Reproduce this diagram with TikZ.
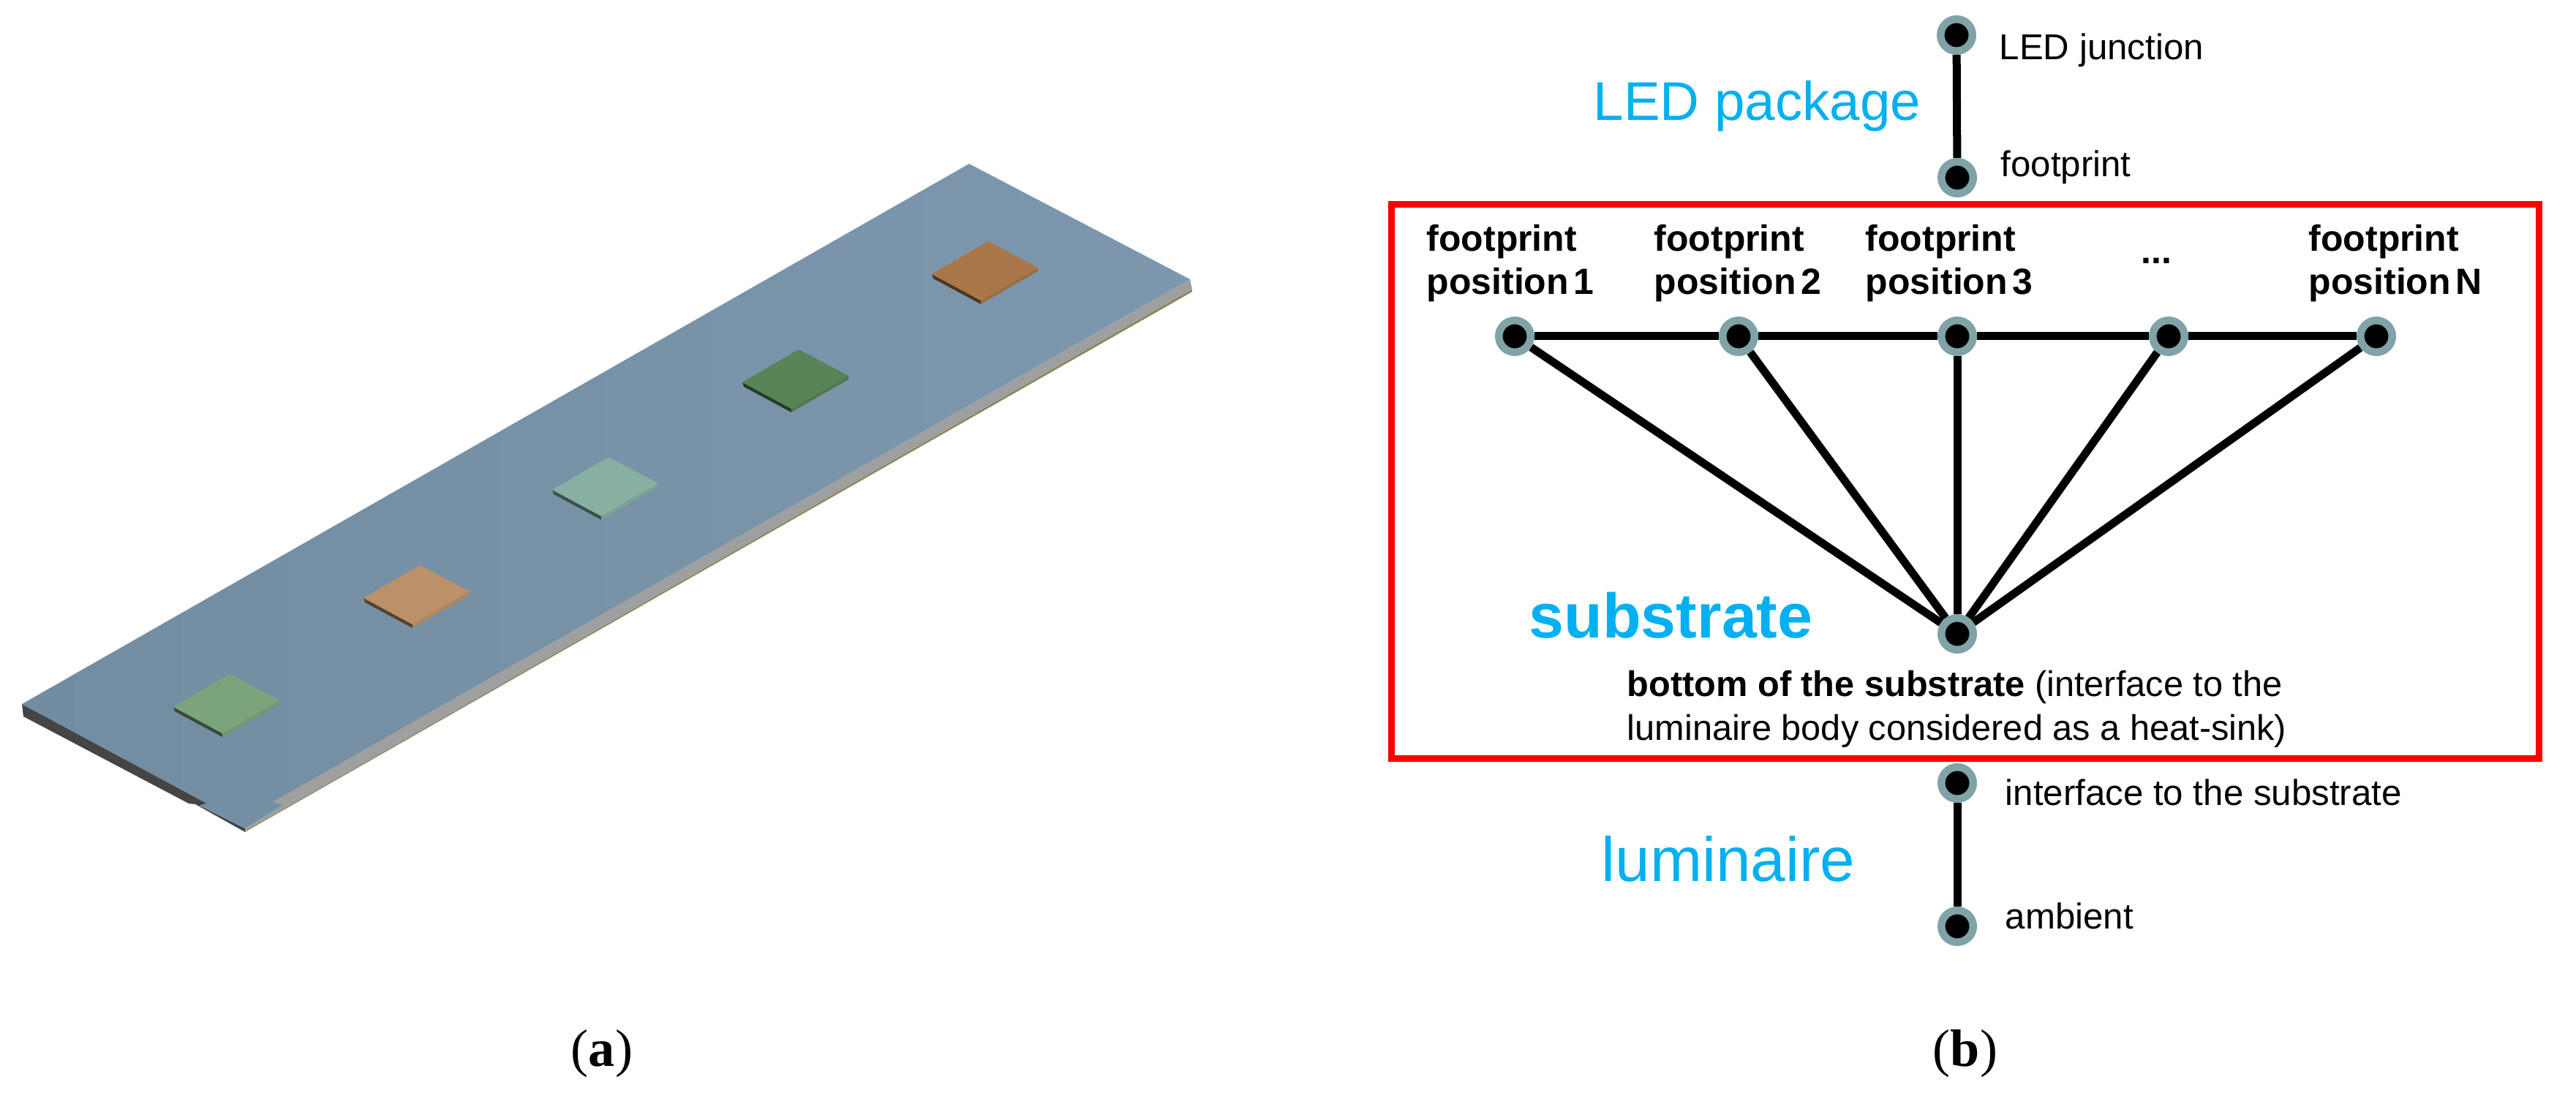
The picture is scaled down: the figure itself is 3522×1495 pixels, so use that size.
\documentclass[tikz,border=0pt]{standalone}
\usepackage{fontspec}
\setmainfont{Liberation Sans}
\newfontfamily\capfont{Liberation Serif}
\usepackage{xcolor}
\definecolor{ledBlue}{HTML}{00B0F0}
\definecolor{ringGray}{HTML}{7FA3A7}
\definecolor{boxRed}{HTML}{FF0000}
\definecolor{plateLow}{HTML}{728CA1}
\definecolor{plateHigh}{HTML}{7D98AE}
\definecolor{sideDark}{HTML}{454545}
\definecolor{sideLight}{HTML}{9F9F9F}
\definecolor{sideOlive}{HTML}{7E8A55}
\definecolor{chipGreenA}{HTML}{7CA47B}
\definecolor{chipOrangeA}{HTML}{BC9069}
\definecolor{chipTeal}{HTML}{87AFA2}
\definecolor{chipGreenB}{HTML}{588457}
\definecolor{chipOrangeB}{HTML}{A97748}
\begin{document}
\begin{tikzpicture}[
  x=0.01cm, y=-0.01cm,
  junction/.style={circle, fill=black, draw=ringGray, line width=10.5*0.2845pt, minimum size=43.5*0.2845pt, inner sep=0pt},
  wire/.style={line width=11*0.2845pt, color=black},
  lab/.style={font=\fontsize{14}{17}\selectfont, inner sep=0pt, anchor=base west},
  head/.style={font=\fontsize{14.2}{16.8}\selectfont\bfseries, execute at begin node={\spaceskip=0.13em\relax}, inner sep=0pt, align=left, anchor=north west},
  part/.style={inner sep=0pt, anchor=base west, color=ledBlue},
  sublabel/.style={font=\capfont\fontsize{20.5}{24}\selectfont, inner sep=0pt, anchor=base}
]
\useasboundingbox (0,0) rectangle (3522,1495);
% plate
\fill[sideDark] (30,963) -- (32,980) -- (258,1099) -- (267,1100) -- (335,1138) -- (335,1133) -- (273,1102) -- (283,1099) -- cycle;
\fill[sideOlive] (335,1138) -- (1630,399) -- (1629,394) -- (335,1134) -- cycle;
\fill[sideLight] (335,1137) -- (1630,396) -- (1627,382) -- (373,1097) -- (387,1101) -- (335,1133) -- cycle;
\shade[left color=plateLow, right color=plateHigh] (30,963) -- (283,1099) -- (273,1102) -- (335,1133) -- (387,1101) -- (373,1097) -- (1627,382) -- (1325,224) -- cycle;
% chips
\foreach \x/\y/\c in {314/922/chipGreenA, 574/773/chipOrangeA, 832/625/chipTeal, 1092/478/chipGreenB, 1351/330/chipOrangeB}{
  \fill[\c!45!black] (\x-77,\y+45) -- (\x-10,\y+81) -- (\x-10,\y+86) -- (\x-75,\y+51) -- cycle;
  \fill[\c!92!black] (\x-10,\y+81) -- (\x+68,\y+36) -- (\x+68,\y+41) -- (\x-10,\y+86) -- cycle;
  \fill[\c] (\x,\y) -- (\x-77,\y+45) -- (\x-10,\y+81) -- (\x+68,\y+36) -- cycle;
}
% thermal network
\node[junction] (junc) at (2675,48) {};
\node[junction] (foot) at (2676,243) {};
\node[junction] (pos1) at (2071,460) {};
\node[junction] (pos2) at (2377,460) {};
\node[junction] (pos3) at (2676,460) {};
\node[junction] (pos4) at (2965,460) {};
\node[junction] (pos5) at (3249,460) {};
\node[junction] (base) at (2676,867) {};
\node[junction] (intf) at (2676,1071) {};
\node[junction] (amb) at (2676,1267) {};
\draw[wire] (junc) -- (foot);
\draw[wire] (intf) -- (amb);
\draw[wire] (pos1) -- (pos2);
\draw[wire] (pos2) -- (pos3);
\draw[wire] (pos3) -- (pos4);
\draw[wire] (pos4) -- (pos5);
\foreach \n in {pos1,pos2,pos3,pos4,pos5}{
  \draw[wire] (\n) -- (base);
}
% substrate frame
\node[draw=boxRed, line width=9.5*0.2845pt, minimum width=1568.5*0.2845pt, minimum height=758*0.2845pt, inner sep=0pt] (frame) at (2687,658.5) {};
% labels
\node[lab] (tjunc) at (2733,82) {LED junction};
\node[lab] (tfoot) at (2735,242) {footprint};
\node[lab] (tintf) at (2741,1101) {interface to the substrate};
\node[lab] (tamb) at (2741,1270) {ambient};
\node[part, font=\fontsize{21.2}{25}\selectfont] (tled) at (2178,165) {LED package};
\node[part, font=\fontsize{24.5}{29}\selectfont\bfseries] (tsub) at (2090,872) {substrate};
\node[part, font=\fontsize{24.3}{29}\selectfont] (tlum) at (2189,1205) {luminaire};
\node[head] (t1) at (1950,307) {footprint\\position 1};
\node[head] (t2) at (2261,307) {footprint\\position 2};
\node[head] (t3) at (2550,307) {footprint\\position 3};
\node[head, anchor=base] (t4) at (2948,361) {...};
\node[head] (t5) at (3156,307) {footprint\\position N};
\node[font=\fontsize{13.85}{17.07}\selectfont, inner sep=0pt, align=left, anchor=north west] (tbase) at (2224,916) {\textbf{bottom of the substrate} (interface to the\\luminaire body considered as a heat-sink)};
% captions
\node[sublabel] (capa) at (823,1458) {(\textbf{a})};
\node[sublabel] (capb) at (2687,1458) {(\textbf{b})};
\end{tikzpicture}
\end{document}
